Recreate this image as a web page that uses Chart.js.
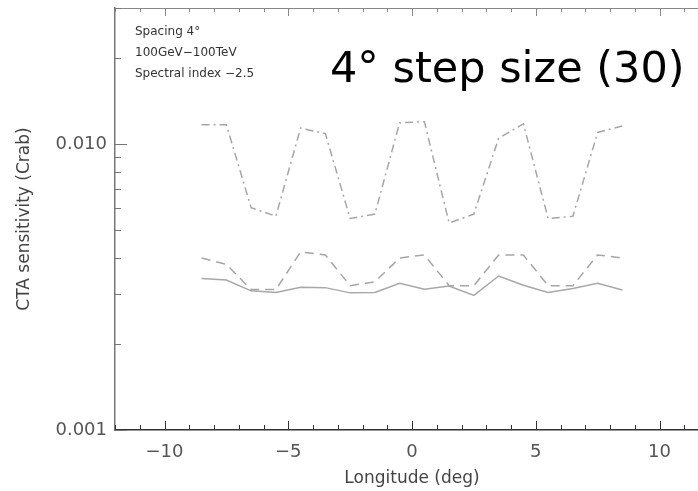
<!DOCTYPE html>
<html>
<head>
<meta charset="utf-8">
<script src="https://cdn.jsdelivr.net/npm/chart.js@4"></script>
<style>
  html, body { margin: 0; padding: 0; background: #fff; overflow: hidden; }
  #wrap { width: 720px; height: 491px; }
</style>
</head>
<body>
<div id="wrap"><canvas id="sensChart" width="720" height="491"></canvas></div>
<script>
// Longitudes of the pointings (deg)
const longitudes = [-8.5, -7.5, -6.5, -5.5, -4.5, -3.5, -2.5, -1.5, -0.5,
                    0.5, 1.5, 2.5, 3.5, 4.5, 5.5, 6.5, 7.5, 8.5];

// Sensitivity curves (Crab units)
const dashDotSeries = [0.0117, 0.0117, 0.0060, 0.0056, 0.0114, 0.0109, 0.0055, 0.0057, 0.0119,
                       0.0120, 0.0053, 0.0057, 0.0105, 0.0118, 0.0055, 0.0056, 0.0110, 0.0116];
const dashedSeries = [0.0040, 0.0038, 0.0031, 0.0031, 0.0042, 0.0041, 0.0032, 0.0033, 0.0040,
                      0.0041, 0.0032, 0.0032, 0.0041, 0.0041, 0.0032, 0.0032, 0.0041, 0.0040];
const solidSeries = [0.00339, 0.00335, 0.00307, 0.00303, 0.00316, 0.00315, 0.00302, 0.00303, 0.00326,
                     0.00311, 0.00319, 0.00296, 0.00346, 0.00321, 0.00303, 0.00313, 0.00326, 0.00309];

// Axis ticks
const yTickValues = [0.001, 0.002, 0.003, 0.004, 0.005, 0.006, 0.007, 0.008, 0.009, 0.01, 0.02, 0.03];
const yTickLabels = { 0.001: '0.001', 0.01: '0.010' };
const xLabelStep = 5;

const notes = ['Spacing 4\u00b0', '100GeV\u2212100TeV', 'Spectral index \u22122.5'];
const panelTitle = '4\u00b0 step size (30)';

function toPoints(ys) {
  return longitudes.map((x, i) => ({ x: x, y: ys[i] }));
}

// Ticks pointing inside the box, plus top border and texts
const boxDecor = {
  id: 'boxDecor',
  afterDraw(chart) {
    const { ctx, chartArea: a, scales: { x, y } } = chart;
    ctx.save();
    ctx.lineWidth = 1;

    // top border
    ctx.strokeStyle = '#888';
    ctx.beginPath();
    ctx.moveTo(a.left, a.top + 0.5);
    ctx.lineTo(a.right, a.top + 0.5);
    ctx.stroke();

    x.ticks.forEach(t => {
      const px = Math.round(x.getPixelForValue(t.value)) + 0.5;
      const major = Math.abs(t.value % xLabelStep) < 1e-9;
      ctx.strokeStyle = '#333';
      ctx.beginPath();
      ctx.moveTo(px, a.bottom);
      ctx.lineTo(px, a.bottom - (major ? 9 : 5));
      ctx.stroke();
      ctx.strokeStyle = '#888';
      ctx.beginPath();
      ctx.moveTo(px, a.top);
      ctx.lineTo(px, a.top + (major ? 8 : 4));
      ctx.stroke();
    });

    y.ticks.forEach(t => {
      const py = Math.round(y.getPixelForValue(t.value)) + 0.5;
      const major = yTickLabels[t.value] !== undefined;
      ctx.strokeStyle = '#777';
      ctx.beginPath();
      ctx.moveTo(a.left, py);
      ctx.lineTo(a.left + (major ? 12 : 6), py);
      ctx.stroke();
    });

    // small notes top-left
    ctx.fillStyle = '#333';
    ctx.font = '12px "DejaVu Sans"';
    ctx.textBaseline = 'middle';
    notes.forEach((n, i) => ctx.fillText(n, 135, 32 + i * 20.8));

    // big panel title
    ctx.fillStyle = '#000';
    ctx.font = '43px "DejaVu Sans"';
    ctx.textBaseline = 'alphabetic';
    ctx.fillText(panelTitle, 330, 82);
    ctx.restore();
  }
};

function createSensitivityChart() {
  const ctx = document.getElementById('sensChart').getContext('2d');
  new Chart(ctx, {
    type: 'line',
    data: {
      datasets: [
        {
          data: toPoints(dashDotSeries),
          borderColor: '#a6a6a6',
          borderWidth: 1.5,
          borderDash: [8, 4, 2, 4],
          pointRadius: 0,
          tension: 0
        },
        {
          data: toPoints(dashedSeries),
          borderColor: '#a6a6a6',
          borderWidth: 1.5,
          borderDash: [9, 6],
          pointRadius: 0,
          tension: 0
        },
        {
          data: toPoints(solidSeries),
          borderColor: '#a8a8a8',
          borderWidth: 1.5,
          pointRadius: 0,
          tension: 0
        }
      ]
    },
    options: {
      responsive: false,
      animation: false,
      devicePixelRatio: 1,
      layout: { padding: { top: 8, right: 11, left: 0, bottom: 0 } },
      plugins: { legend: { display: false }, tooltip: { enabled: false } },
      scales: {
        x: {
          type: 'linear',
          min: -12,
          max: 12,
          afterFit: s => { s.height = 61; s.paddingLeft = 0; s.paddingRight = 0; },
          grid: { display: false, drawTicks: false },
          border: { display: true, color: '#333', width: 1.5 },
          ticks: {
            stepSize: 1,
            autoSkip: false,
            maxRotation: 0,
            padding: 12,
            color: '#555',
            font: { family: 'DejaVu Sans', size: 18 },
            callback: v => (Math.abs(v % xLabelStep) < 1e-9 ? String(v).replace('-', '\u2212') : '')
          },
          title: {
            display: true,
            text: 'Longitude (deg)',
            color: '#444',
            font: { family: 'DejaVu Sans', size: 17 },
            padding: { top: 0, bottom: 2 }
          }
        },
        y: {
          type: 'logarithmic',
          min: 0.001,
          max: 0.03,
          afterFit: s => { s.width = 115; s.paddingTop = 0; s.paddingBottom = 0; },
          afterBuildTicks: s => { s.ticks = yTickValues.map(v => ({ value: v })); },
          grid: { display: false, drawTicks: false },
          border: { display: true, color: '#777', width: 1.5 },
          ticks: {
            autoSkip: false,
            padding: 8,
            color: '#555',
            font: { family: 'DejaVu Sans', size: 18 },
            callback: v => yTickLabels[v] || ''
          },
          title: {
            display: true,
            text: 'CTA sensitivity (Crab)',
            color: '#444',
            font: { family: 'DejaVu Sans', size: 17 },
            padding: { top: 14, bottom: 0 }
          }
        }
      }
    },
    plugins: [boxDecor]
  });
}

document.addEventListener('DOMContentLoaded', createSensitivityChart);
</script>
</body>
</html>
